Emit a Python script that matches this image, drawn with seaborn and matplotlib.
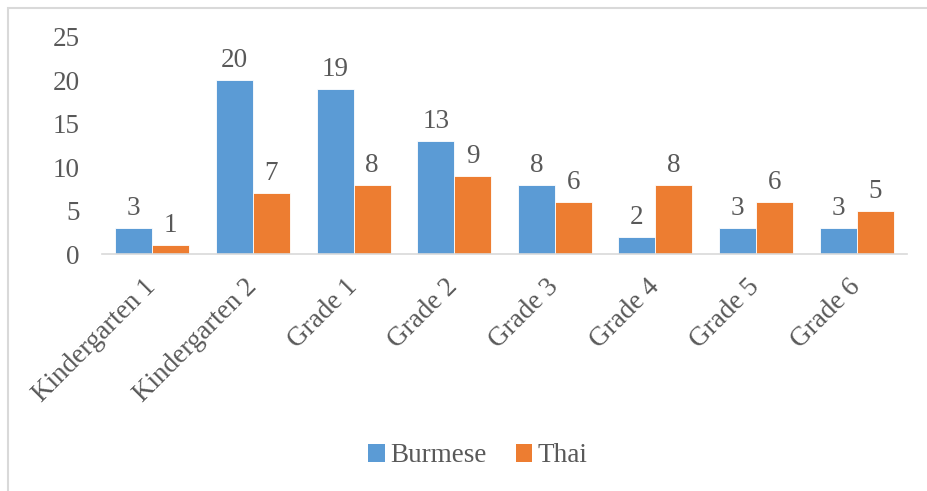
import matplotlib
matplotlib.use("Agg")
import matplotlib.pyplot as plt
from matplotlib.patches import Rectangle, Patch
import seaborn as sns
import pandas as pd

categories = ["Kindergarten 1", "Kindergarten 2", "Grade 1", "Grade 2",
              "Grade 3", "Grade 4", "Grade 5", "Grade 6"]
burmese = [3, 20, 19, 13, 8, 2, 3, 3]
thai = [1, 7, 8, 9, 6, 8, 6, 5]
series = ["Burmese", "Thai"]
colors = ["#5B9BD5", "#ED7D31"]
yticks = [0, 5, 10, 15, 20, 25]

df = pd.DataFrame({
    "Grade": categories * 2,
    "Language": [series[0]] * len(categories) + [series[1]] * len(categories),
    "Count": burmese + thai,
})

sns.set_theme(style="white")
plt.rcParams["font.family"] = ["Liberation Serif", "DejaVu Serif"]
text_color = "#595959"
fs = 19.5

fig = plt.figure(figsize=(9.28, 4.91), dpi=100)
ax = fig.add_axes([102 / 928, 1 - 254 / 491, (907 - 102) / 928, (254 - 37) / 491])

sns.barplot(data=df, x="Grade", y="Count", hue="Language", order=categories,
            hue_order=series, palette=colors, width=0.735, saturation=1,
            edgecolor="white", linewidth=0.6, ax=ax, legend=False)

for container in ax.containers:
    ax.bar_label(container, fmt="%d", padding=5, fontsize=fs, color=text_color)

ax.set_ylim(0, 25)
ax.set_yticks(yticks)
ax.set_yticklabels([str(v) for v in yticks])
ax.set_xlim(-0.5, len(categories) - 0.5)
ax.set_xlabel("")
ax.set_ylabel("")
for s in ["top", "right", "left"]:
    ax.spines[s].set_visible(False)
ax.spines["bottom"].set_color("#D9D9D9")
ax.spines["bottom"].set_linewidth(1.2)
ax.tick_params(axis="y", length=0, pad=16, labelsize=fs, labelcolor=text_color)
ax.tick_params(axis="x", length=0, pad=21, labelsize=fs, labelcolor=text_color)
plt.setp(ax.get_xticklabels(), rotation=45, ha="right", va="center",
         rotation_mode="anchor")

handles = [Patch(facecolor=c, edgecolor="none") for c in colors]
fig.legend(handles, series, loc="center", bbox_to_anchor=(478 / 928, 1 - 456 / 491),
           ncol=2, frameon=False, fontsize=fs, labelcolor=text_color,
           handlelength=0.6, handleheight=0.6, handletextpad=0.2, columnspacing=1.1)

fig.patches.append(Rectangle((8.5 / 928, -0.2), 2, 1.2 - 7.5 / 491,
                             transform=fig.transFigure, fill=False,
                             edgecolor="#D9D9D9", linewidth=1.5))

fig.savefig("out.png", dpi=100)
